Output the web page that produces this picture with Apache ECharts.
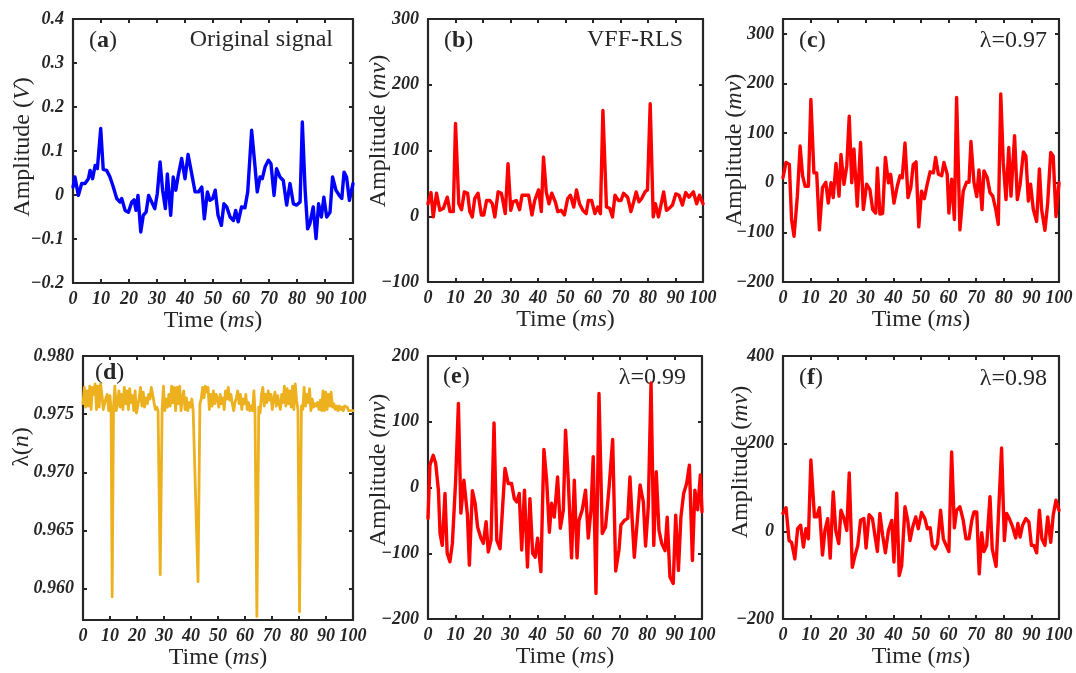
<!DOCTYPE html>
<html>
<head>
<meta charset="utf-8">
<script src="https://cdn.jsdelivr.net/npm/echarts@6/dist/echarts.min.js"></script>
<style>
  html, body { margin: 0; padding: 0; background: #ffffff; }
  #chart { width: 1076px; height: 673px; }
</style>
</head>
<body>
<div id="chart"></div>
<script>
// ---- time axis ticks (ms) ----
const timeTicks = [0, 10, 20, 30, 40, 50, 60, 70, 80, 90, 100];

// ---- (a) original signal, V ----
const tA = [0,0.7,1.9,3.1,4.3,5.5,6.1,7.0,7.9,8.7,
  9.9,10.8,12.0,13.2,14.4,15.6,16.8,17.4,18.6,19.8,
  21.0,21.8,22.5,23.2,24.2,25.1,26.1,27.0,28.1,29.2,
  30.1,31.1,32.0,33.0,33.7,34.9,35.8,36.7,37.6,38.8,
  40.0,41.1,42.4,43.6,44.8,46.0,46.9,48.0,48.9,49.9,
  50.8,51.8,53.0,53.9,54.9,56.1,57.3,58.1,59.0,60.2,
  61.4,62.4,63.8,64.8,65.8,66.8,67.6,68.6,69.8,70.7,
  71.8,72.7,73.9,75.1,76.3,77.5,78.7,79.9,81.1,81.9,
  82.9,83.8,84.6,85.8,86.8,87.7,88.7,89.6,90.6,91.8,
  92.7,93.9,95.1,96.0,96.8,97.7,98.7,100];
const vA = [0.018,0.041,-0.001,0.026,0.026,0.037,0.056,0.037,0.067,0.060,
  0.151,0.058,0.056,0.041,0.018,-0.008,-0.016,-0.008,-0.035,-0.039,
  -0.016,-0.011,-0.035,-0.001,-0.084,-0.046,-0.039,-0.001,-0.016,-0.031,
  0.003,0.075,0.011,-0.031,0.048,-0.046,0.041,0.011,0.045,0.083,
  0.037,0.092,0.048,0.007,0.007,0.018,-0.054,0.007,-0.012,-0.008,
  0.011,-0.046,-0.069,-0.020,-0.027,-0.050,-0.058,-0.035,-0.061,-0.027,
  -0.029,0.007,0.147,0.079,0.007,0.041,0.037,0.064,0.079,0.071,
  -0.001,0.060,0.041,0.033,-0.023,0.026,-0.020,-0.023,-0.016,0.166,
  0.011,-0.077,-0.065,-0.027,-0.099,-0.020,-0.050,-0.005,-0.050,-0.039,
  0.041,0.011,-0.001,-0.008,0.052,0.041,-0.012,0.026];
const yTicksA = [-0.2, -0.1, 0, 0.1, 0.2, 0.3, 0.4];

// ---- (b) VFF-RLS output, mv ----
const tB = [0,1.1,1.9,3.1,4.3,5.6,7.0,8.0,9.2,10.0,
  11.2,12.2,13.2,14.4,15.2,16.1,17.0,18.2,19.4,20.3,
  21.3,22.5,23.4,24.3,25.5,26.7,28.1,29.1,30.1,30.9,
  32.1,33.3,34.2,35.4,36.6,37.8,38.8,40.2,41.2,42.0,
  43.0,44.0,45.0,46.3,47.2,48.4,49.6,50.8,51.8,53.0,
  54.0,55.1,56.3,57.5,58.3,59.5,60.7,61.7,62.7,63.6,
  64.9,66.1,67.1,68.0,69.2,70.2,71.1,72.6,73.8,74.8,
  75.7,76.7,77.7,78.9,79.8,80.8,81.9,82.7,83.8,84.7,
  85.7,86.7,87.7,88.9,90.1,91.3,92.5,93.7,94.9,96.5,
  97.7,98.7,100];
const vB = [19,36,-1,35,9,12,29,7,7,141,
  19,10,37,35,7,-1,27,35,2,2,
  24,24,19,-1,37,35,4,80,9,22,
  24,10,32,32,32,2,24,40,7,90,
  37,19,35,22,7,9,2,27,32,14,
  40,19,9,4,24,24,4,14,4,161,
  14,12,-1,32,24,24,35,29,7,22,
  37,22,27,37,40,171,-1,19,-1,17,
  37,9,12,17,34,32,17,36,29,37,
  19,32,19];
const yTicksB = [-100, 0, 100, 200, 300];

// ---- (c) fixed factor 0.97, mv ----
const tC = [0,1.1,2.3,3.1,4.0,5.2,6.2,7.1,8.0,9.2,
  10.1,11.2,12.2,13.2,14.3,15.5,16.4,17.4,18.2,19.2,
  20.3,21.0,22.1,23.1,24.0,24.9,25.7,26.9,28.1,29.1,
  30.3,31.5,32.5,33.6,34.2,35.1,36.1,37.1,38.2,39.0,
  40.2,41.4,42.4,43.2,44.2,45.3,46.3,47.2,48.2,49.2,
  50.2,51.2,52.1,53.3,54.5,55.3,56.3,57.5,58.3,59.5,
  60.1,61.1,62.1,62.9,64.1,65.3,66.5,67.4,68.1,69.2,
  70.2,71.0,72.1,72.8,74.0,75.0,76.0,77.1,78.0,78.9,
  79.8,80.8,81.8,82.6,83.9,84.9,85.9,87.1,88.0,88.9,
  89.7,90.7,91.9,92.9,93.7,94.9,95.9,97.0,97.9,98.9,
  100];
const vC = [10,41,37,-74,-108,-27,74,14,-7,-7,
  168,20,20,-95,-10,1,-41,0,-30,39,
  -27,57,-3,34,134,0,68,-47,81,-54,
  -3,-14,-54,-61,30,-63,-62,51,0,17,
  -41,-7,14,10,80,-30,-10,37,42,-89,
  -17,-32,-7,22,20,51,17,14,41,17,
  -61,7,-74,172,-95,-17,1,1,83,0,
  -28,26,-54,24,10,-20,-27,-54,-84,179,
  41,-34,71,-27,95,-34,-3,62,54,-37,
  -3,-54,-78,28,-54,-96,-41,61,54,-68,
  0];
const yTicksC = [-200, -100, 0, 100, 200, 300];

// ---- (d) variable forgetting factor lambda(n) ----
const tD = [0,0.5,1,1.5,2,2.5,3,3.5,4,4.5,
  5,5.5,6,6.5,7,7.5,8,8.5,9,9.5,
  10,10.4,10.8,11.3,11.8,12.3,12.8,13.3,13.8,14.3,
  14.8,15.3,15.8,16.3,16.8,17.3,17.8,18.3,18.8,19.3,
  19.8,20.3,20.8,21.3,21.8,22.3,22.8,23.3,23.8,24.3,
  24.8,25.3,25.8,26.3,26.8,27.3,27.8,28.6,29.3,29.8,
  30.3,30.8,31.3,31.8,32.3,32.8,33.3,33.8,34.3,34.8,
  35.3,35.8,36.3,36.8,37.3,37.8,38.3,38.8,39.3,39.8,
  40.3,40.8,41.5,42.6,43.3,43.8,44.3,44.8,45.3,45.8,
  46.3,46.8,47.3,47.8,48.3,48.8,49.3,49.8,50.3,50.8,
  51.3,51.8,52.3,52.8,53.3,53.8,54.3,54.8,55.3,55.8,
  56.3,56.8,57.3,57.8,58.3,58.8,59.3,59.8,60.3,60.8,
  61.3,61.8,62.3,62.8,63.3,63.7,64.4,65.1,65.6,66.1,
  66.6,67.1,67.6,68.1,68.6,69.1,69.6,70.1,70.6,71.1,
  71.6,72.1,72.6,73.1,73.6,74.1,74.6,75.1,75.6,76.1,
  76.6,77.1,77.6,78.1,78.6,79.1,79.6,80.2,80.9,81.4,
  81.9,82.4,82.9,83.4,83.9,84.4,84.9,85.4,85.9,86.4,
  86.9,87.4,87.9,88.4,88.9,89.4,89.9,90.4,90.9,91.4,
  91.9,92.4,92.9,93.4,93.9,94.4,94.9,95.4,95.9,96.4,
  96.9,97.4,97.9,98.4,98.9,99.4,100];
const vD = [0.9759,0.9773,0.9756,0.9770,0.9757,0.9774,0.9754,0.9773,0.9767,0.9776,
  0.9754,0.9774,0.9756,0.9776,0.9767,0.9754,0.9759,0.9764,0.9767,0.9753,
  0.9766,0.9753,0.9593,0.9756,0.9774,0.9753,0.9759,0.9770,0.9756,0.9767,
  0.9754,0.9773,0.9759,0.9770,0.9754,0.9772,0.9760,0.9766,0.9753,0.9770,
  0.9751,0.9757,0.9764,0.9773,0.9757,0.9769,0.9756,0.9764,0.9759,0.9767,
  0.9763,0.9773,0.9767,0.9760,0.9754,0.9756,0.9753,0.9612,0.9754,0.9774,
  0.9753,0.9763,0.9756,0.9767,0.9757,0.9774,0.9760,0.9773,0.9753,0.9773,
  0.9759,0.9774,0.9753,0.9764,0.9770,0.9754,0.9764,0.9753,0.9760,0.9756,
  0.9763,0.9753,0.9754,0.9606,0.9759,0.9763,0.9773,0.9764,0.9774,0.9769,
  0.9773,0.9754,0.9767,0.9757,0.9770,0.9759,0.9767,0.9763,0.9756,0.9767,
  0.9759,0.9764,0.9754,0.9770,0.9763,0.9773,0.9762,0.9767,0.9759,0.9753,
  0.9760,0.9764,0.9770,0.9759,0.9767,0.9754,0.9763,0.9759,0.9767,0.9754,
  0.9760,0.9753,0.9757,0.9753,0.9770,0.9753,0.9576,0.9756,0.9751,0.9767,
  0.9773,0.9757,0.9767,0.9760,0.9770,0.9762,0.9767,0.9754,0.9763,0.9769,
  0.9757,0.9766,0.9759,0.9754,0.9767,0.9760,0.9774,0.9757,0.9772,0.9759,
  0.9770,0.9756,0.9774,0.9754,0.9776,0.9762,0.9754,0.9580,0.9757,0.9754,
  0.9773,0.9757,0.9767,0.9760,0.9772,0.9753,0.9763,0.9756,0.9759,0.9757,
  0.9760,0.9754,0.9762,0.9753,0.9770,0.9753,0.9769,0.9754,0.9767,0.9757,
  0.9769,0.9756,0.9759,0.9754,0.9757,0.9753,0.9757,0.9754,0.9756,0.9753,
  0.9757,0.9756,0.9756,0.9753,0.9754,0.9753,0.9753];
const yTicksD = [0.960, 0.965, 0.970, 0.975, 0.980];

// ---- (e) fixed factor 0.99, mv ----
const tE = [0,0.7,1.9,2.8,3.8,4.4,5.2,6.2,7.0,8.0,
  8.9,10.1,11.1,12.0,13.1,14.4,15.1,16.2,17.2,18.1,
  19.3,20.2,21.2,22.0,23.0,24.1,25.1,26.3,27.1,28.1,
  29.3,30.5,31.5,32.4,33.3,34.2,35.2,36.3,37.2,38.2,
  39.1,40.0,41.2,42.3,43.3,44.3,45.1,46.1,47.3,48.3,
  49.4,50.2,51.2,52.4,53.4,54.4,55.1,56.3,57.5,58.5,
  59.5,60.3,61.3,62.4,63.6,64.8,66.1,67.4,68.5,69.7,
  70.4,71.7,72.9,73.7,74.6,75.3,76.3,77.4,78.6,79.4,
  80.4,81.4,82.4,83.3,84.3,85.3,86.5,87.3,88.3,89.5,
  90.4,91.4,92.3,93.3,94.4,95.4,96.5,97.4,98.4,99.4,
  100];
const vE = [-47,34,49,37,-4,-70,-88,-9,-100,-113,
  -85,11,128,-39,11,-42,-118,-5,-24,-60,
  -77,-85,-52,-98,-80,98,-80,-93,-39,29,
  6,6,-17,-22,-9,-95,-4,-121,-17,-100,
  -106,-77,-128,58,11,-68,-24,-45,16,-62,
  -34,87,11,-107,11,-107,-50,-34,-4,-77,
  -34,47,-161,143,-70,-60,1,73,-127,-95,
  -57,-50,-47,16,-55,-106,-55,4,-22,-89,
  -29,159,-88,24,-65,-85,-96,-45,-136,-146,
  -42,-126,-45,-9,6,34,-111,-4,-34,19,
  -37];
const yTicksE = [-200, -100, 0, 100, 200];

// ---- (f) fixed factor 0.98, mv ----
const tF = [0,1.1,2.2,3.1,4.3,5.3,6.4,7.4,8.3,9.2,
  10.1,11.4,12.2,13.2,14.3,15.2,16.2,17.1,18.2,19.1,
  20.2,21.0,22.1,23.1,24.0,25.1,26.1,27.1,28.1,29.3,
  30.1,31.2,32.4,33.3,34.2,35.1,36.1,37.1,38.2,39.4,
  40.2,41.2,42.1,43.0,44.2,45.2,46.0,47.0,48.1,49.0,
  50.2,51.4,52.3,53.3,54.1,55.1,56.0,57.1,58.1,59.1,
  60.1,61.1,62.1,62.9,64.1,65.3,66.3,67.4,68.4,69.2,
  70.2,71.1,72.0,72.8,73.8,75.0,75.8,77.2,78.1,79.2,
  80.2,81.0,82.0,83.2,84.3,85.1,85.9,86.8,88.0,89.1,
  90.0,90.9,91.9,92.9,93.8,94.9,95.9,97.0,97.9,98.9,
  100];
const vF = [41,54,-21,-25,-63,6,14,-36,6,-17,
  163,33,33,54,-54,2,29,-61,90,2,
  -28,48,29,2,133,-82,-55,-32,25,29,
  -38,38,29,-9,-46,41,-9,-49,2,25,
  -70,87,-101,-78,56,25,-21,10,33,6,
  43,29,6,8,-32,-40,-28,48,-17,-32,
  -46,181,8,48,56,25,-17,-17,25,44,
  44,-97,-3,-46,-32,79,-40,-80,41,190,
  -21,41,29,10,-15,18,-13,14,29,21,
  -32,-32,-49,48,-17,-32,33,-25,37,71,
  48];
const yTicksF = [-200, 0, 200, 400];

// ---- panel texts ----
const panelTags = ['a', 'b', 'c', 'd', 'e', 'f'];
const panelNotes = ['Original signal', 'VFF-RLS', '\u03bb=0.97', '', '\u03bb=0.99', '\u03bb=0.98'];
const yTitles = ['Amplitude ({i|V})', 'Amplitude ({i|mv})', 'Amplitude ({i|mv})',
                 '\u03bb({i|n})', 'Amplitude ({i|mv})', 'Amplitude ({i|mv})'];
const xTitle = 'Time ({i|ms})';

// ---- styling ----
const INK = '#262626';
const SERIF = 'Liberation Serif';
const TITLE_SIZE = 24;
const TICK_SIZE = 18;

const zip = (t, v) => t.map((x, i) => [x, v[i]]);
const minus = s => String(s).replace('-', '\u2212');

const panels = [
  { grid: { left: 73,  top: 19,  width: 280, height: 264 }, data: zip(tA, vA), color: '#0000ff', min: -0.2,   max: 0.4,  ticks: yTicksA, fmt: v => minus(+v.toFixed(1)), width: 3.4,
    tagPos: [89, 41], notePos: [333, 40], titlePos: [23, 147] },
  { grid: { left: 428, top: 19,  width: 275, height: 263 }, data: zip(tB, vB), color: '#ff0000', min: -100,   max: 300,  ticks: yTicksB, fmt: v => minus(v), width: 3.4,
    tagPos: [444, 41], notePos: [683, 40], titlePos: [379, 131] },
  { grid: { left: 783, top: 19,  width: 276, height: 263 }, data: zip(tC, vC), color: '#ff0000', min: -200,   max: 330,  ticks: yTicksC, fmt: v => minus(v), width: 3.4,
    tagPos: [799, 41], notePos: [1047, 41], titlePos: [735, 150] },
  { grid: { left: 83,  top: 356, width: 270, height: 264 }, data: zip(tD, vD), color: '#edb120', min: 0.9573, max: 0.980, ticks: yTicksD, fmt: v => (+v).toFixed(3), width: 2.8,
    tagPos: [95, 373], notePos: null, titlePos: [22, 447] },
  { grid: { left: 428, top: 356, width: 274, height: 263 }, data: zip(tE, vE), color: '#ff0000', min: -200,   max: 200,  ticks: yTicksE, fmt: v => minus(v), width: 3.4,
    tagPos: [443, 377], notePos: [686, 378], titlePos: [379, 470] },
  { grid: { left: 783, top: 356, width: 276, height: 263 }, data: zip(tF, vF), color: '#ff0000', min: -200,   max: 400,  ticks: yTicksF, fmt: v => minus(v), width: 3.4,
    tagPos: [799, 378], notePos: [1047, 379], titlePos: [741, 462] }
];

const frameLine = { show: true, onZero: false, lineStyle: { color: INK, width: 2.2 } };
const innerTick = ticks => ({ show: true, inside: true, length: 4, customValues: ticks, lineStyle: { color: INK, width: 2 } });
const tickFont = { fontFamily: SERIF, fontWeight: 'bold', fontStyle: 'italic', fontSize: TICK_SIZE, color: INK };
const titleRich = { i: { fontFamily: SERIF, fontStyle: 'italic', fontSize: TITLE_SIZE, color: INK } };

const grid = [], xAxis = [], yAxis = [], series = [], graphic = [];

panels.forEach((p, k) => {
  grid.push(Object.assign({ show: true, borderColor: INK, borderWidth: 2, backgroundColor: 'transparent', containLabel: false }, p.grid));

  // bottom time axis with labels and title
  xAxis.push({
    type: 'value', gridIndex: k, position: 'bottom', min: 0, max: 100,
    axisLine: frameLine, axisTick: innerTick(timeTicks), splitLine: { show: false },
    axisLabel: Object.assign({ customValues: timeTicks, margin: 7 }, tickFont),
    name: xTitle, nameLocation: 'middle', nameGap: 25,
    nameTextStyle: { fontFamily: SERIF, fontSize: TITLE_SIZE, color: INK, rich: titleRich }
  });
  // mirrored top axis (ticks only)
  xAxis.push({
    type: 'value', gridIndex: k, position: 'top', min: 0, max: 100,
    axisLine: frameLine, axisTick: innerTick(timeTicks), axisLabel: { show: false }, splitLine: { show: false }
  });
  // left amplitude axis
  yAxis.push({
    type: 'value', gridIndex: k, position: 'left', min: p.min, max: p.max,
    axisLine: frameLine, axisTick: innerTick(p.ticks), splitLine: { show: false },
    axisLabel: Object.assign({ customValues: p.ticks, margin: 9, formatter: p.fmt }, tickFont)
  });
  // mirrored right axis (ticks only)
  yAxis.push({
    type: 'value', gridIndex: k, position: 'right', min: p.min, max: p.max,
    axisLine: frameLine, axisTick: innerTick(p.ticks), axisLabel: { show: false }, splitLine: { show: false }
  });

  series.push({
    type: 'line', xAxisIndex: 2 * k, yAxisIndex: 2 * k, data: p.data,
    showSymbol: false, symbol: 'none', z: 3,
    lineStyle: { color: p.color, width: p.width, join: 'round', cap: 'round' }
  });

  // panel tag, e.g. (a)
  graphic.push({
    type: 'text', x: p.tagPos[0], y: p.tagPos[1], z: 1,
    style: {
      text: '({b|' + panelTags[k] + '})', align: 'left', verticalAlign: 'middle',
      font: TITLE_SIZE + 'px "' + SERIF + '"', fill: INK,
      rich: { b: { fontFamily: SERIF, fontWeight: 'bold', fontSize: TITLE_SIZE, fill: INK, color: INK } }
    }
  });
  if (p.notePos) {
    graphic.push({
      type: 'text', x: p.notePos[0], y: p.notePos[1], z: 1,
      style: { text: panelNotes[k], align: 'right', verticalAlign: 'middle', font: TITLE_SIZE + 'px "' + SERIF + '"', fill: INK }
    });
  }
  // rotated amplitude title
  graphic.push({
    type: 'text', x: p.titlePos[0], y: p.titlePos[1], rotation: Math.PI / 2, z: 1,
    style: {
      text: yTitles[k], align: 'center', verticalAlign: 'middle',
      font: TITLE_SIZE + 'px "' + SERIF + '"', fill: INK,
      rich: { i: { fontFamily: SERIF, fontStyle: 'italic', fontSize: TITLE_SIZE, fill: INK, color: INK } }
    }
  });
});

const chart = echarts.init(document.getElementById('chart'), null, { renderer: 'canvas' });
chart.setOption({
  animation: false,
  backgroundColor: '#ffffff',
  grid, xAxis, yAxis, series, graphic
});
</script>
</body>
</html>
